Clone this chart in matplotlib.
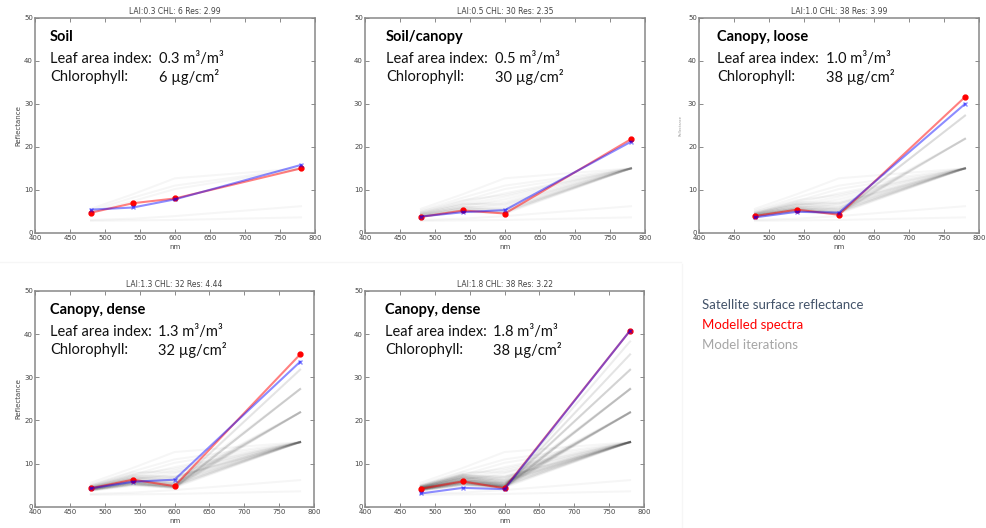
import matplotlib
matplotlib.use('Agg')
import matplotlib.pyplot as plt
from matplotlib.lines import Line2D

# band centres of the satellite channels (nm)
wavelength = [480, 540, 600, 780]

titles = ['LAI:0.3 CHL: 6 Res: 2.99', 'LAI:0.5 CHL: 30 Res: 2.35',
          'LAI:1.0 CHL: 38 Res: 3.99', 'LAI:1.3 CHL: 32 Res: 4.44',
          'LAI:1.8 CHL: 38 Res: 3.22']
headings = ['Soil', 'Soil/canopy', 'Canopy, loose', 'Canopy, dense', 'Canopy, dense']
lai = ['0.3', '0.5', '1.0', '1.3', '1.8']
chl = ['6', '30', '38', '32', '38']

# observed reflectance per scene
satellite = [[5.4, 5.9, 7.8, 15.8],
             [3.8, 4.8, 5.3, 21.2],
             [3.6, 4.9, 4.7, 30.0],
             [4.3, 5.8, 6.3, 33.6],
             [3.1, 4.4, 4.1, 40.8]]
# best fitting model spectrum per scene
modelled = [[4.7, 6.9, 8.0, 15.0],
            [3.7, 5.2, 4.5, 21.8],
            [3.9, 5.4, 4.2, 31.6],
            [4.3, 6.3, 4.8, 35.3],
            [4.2, 5.9, 4.3, 40.8]]

# model iterations, each scene adds its own runs to the ones before
iter_soil = [[2.8, 2.9, 3.0, 3.6],
             [3.0, 3.3, 3.9, 6.2],
             [5.6, 9.0, 12.7, 15.0],
             [5.2, 8.2, 11.0, 15.0],
             [4.8, 7.4, 10.2, 14.9]]
iter_soil_canopy = [[4.6, 7.0, 9.2, 15.0],
                    [4.4, 6.6, 8.4, 15.0],
                    [4.2, 6.2, 7.8, 15.0],
                    [4.5, 6.5, 7.2, 15.0],
                    [4.0, 5.8, 6.8, 15.0],
                    [4.3, 6.0, 6.2, 15.0],
                    [3.9, 5.4, 5.8, 15.0],
                    [4.1, 5.6, 5.4, 15.0],
                    [3.8, 5.1, 5.0, 15.0],
                    [4.0, 5.3, 4.7, 15.0],
                    [3.7, 4.9, 4.5, 15.0],
                    [4.2, 5.7, 5.1, 15.1],
                    [3.9, 5.2, 4.9, 15.1],
                    [4.4, 6.0, 5.5, 15.0],
                    [5.0, 7.6, 8.8, 15.0],
                    [4.7, 6.8, 6.6, 14.9]]
iter_canopy_loose = [[4.0, 5.5, 4.6, 21.9],
                     [4.2, 5.9, 4.9, 21.9],
                     [3.9, 5.3, 4.4, 21.9],
                     [4.3, 6.2, 5.3, 21.8],
                     [4.1, 5.7, 4.7, 21.9],
                     [4.4, 6.5, 5.6, 21.9],
                     [3.8, 5.1, 4.3, 27.3],
                     [4.0, 5.4, 4.5, 27.3],
                     [3.9, 5.2, 4.4, 27.3],
                     [4.1, 5.6, 4.6, 27.2],
                     [4.5, 6.8, 6.0, 15.0],
                     [4.6, 7.2, 6.9, 15.0]]
iter_canopy_dense = [[4.2, 5.8, 4.8, 31.8],
                     [4.0, 5.5, 4.6, 31.8],
                     [4.3, 6.0, 5.0, 31.7],
                     [4.4, 6.3, 5.2, 27.3],
                     [4.1, 5.6, 4.6, 27.3],
                     [4.5, 6.6, 5.5, 21.9],
                     [4.3, 6.1, 5.1, 21.9],
                     [4.7, 7.0, 6.2, 21.9],
                     [4.8, 7.4, 7.0, 15.0],
                     [5.0, 8.0, 8.0, 15.0]]
iter_canopy_dense2 = [[4.1, 5.9, 4.5, 38.3],
                      [4.2, 6.1, 4.6, 38.3],
                      [4.0, 5.6, 4.4, 35.3],
                      [4.3, 6.3, 4.7, 35.3],
                      [4.1, 5.8, 4.5, 35.3],
                      [4.4, 6.6, 4.9, 31.7],
                      [4.2, 6.0, 4.6, 31.7],
                      [4.5, 6.9, 5.1, 27.3],
                      [4.3, 6.4, 4.8, 27.3],
                      [4.6, 7.1, 5.3, 21.8],
                      [4.4, 6.7, 5.0, 21.8],
                      [4.7, 7.3, 5.6, 21.8],
                      [4.8, 7.5, 6.0, 15.0],
                      [4.6, 7.0, 5.7, 15.0],
                      [4.9, 7.6, 6.4, 15.0]]
iter_groups = [iter_soil, iter_soil_canopy, iter_canopy_loose,
               iter_canopy_dense, iter_canopy_dense2]

legend_labels = ['Satellite surface reflectance', 'Modelled spectra', 'Model iterations']
legend_colors = ['#44546a', '#ff0000', '#a6a6a6']

# axes rectangles [left, bottom, width, height] and text x offsets
axes_pos = [[0.0355, 0.559, 0.2837, 0.407],
            [0.3698, 0.559, 0.2837, 0.407],
            [0.7082, 0.559, 0.2837, 0.407],
            [0.0355, 0.040, 0.2827, 0.409],
            [0.3698, 0.040, 0.2827, 0.409]]
text_x = [(0.054, 0.443), (0.075, 0.464), (0.064, 0.454), (0.054, 0.440), (0.072, 0.460)]

fig = plt.figure(figsize=(9.87, 5.28), dpi=100)

# faint separators between the panels
fig.add_artist(Line2D([0, 0.69], [0.504, 0.504], color='#f6f6f6', lw=1))
fig.add_artist(Line2D([0.691, 0.691], [0, 0.500], color='#f6f6f6', lw=1))

for i in range(5):
    ax = fig.add_axes(axes_pos[i])
    runs = [r for g in iter_groups[:i + 1] for r in g]
    for r in runs:
        ax.plot(wavelength, r, color='black', alpha=0.035, lw=1.5)
    ax.plot(wavelength, modelled[i], color='red', alpha=0.5, lw=1.5)
    ax.plot(wavelength, modelled[i], 'o', color='red', ms=3.5, mec='red')
    ax.plot(wavelength, satellite[i], color='blue', alpha=0.45, lw=1.5,
            marker='x', ms=3.5, mew=1)

    ax.set_xlim(400, 800)
    ax.set_ylim(0, 50)
    ax.set_xticks(range(400, 801, 50))
    ax.set_yticks(range(0, 51, 10))
    ax.tick_params(direction='in', top=True, right=True, length=3, width=0.6,
                   labelsize=5, colors='#777777', labelcolor='#444444', pad=1.5)
    for s in ax.spines.values():
        s.set_color('#888888')
        s.set_linewidth(1.1)
    ax.set_title(titles[i], fontsize=5.5, color='#444444', pad=3)
    ax.set_xlabel('nm', fontsize=5, color='#444444', labelpad=2)
    if i in (0, 3):
        ax.set_ylabel('Reflectance', fontsize=5, color='#444444', labelpad=2)
    elif i == 2:
        ax.set_ylabel('Reflectance', fontsize=2.5, color='#999999', labelpad=4)

    tx, vx = text_x[i]
    ax.text(tx, 0.91, headings[i], transform=ax.transAxes, fontsize=10.5,
            fontweight='bold', family='Lato', va='center', color='black')
    ax.text(tx, 0.81, 'Leaf area index:', transform=ax.transAxes, fontsize=10.5,
            family='Lato', va='center', color='#111111')
    ax.text(vx, 0.81, lai[i] + ' m³/m³', transform=ax.transAxes, fontsize=10.5,
            family='Lato', va='center', color='#111111')
    ax.text(tx, 0.725, 'Chlorophyll:', transform=ax.transAxes, fontsize=10.5,
            family='Lato', va='center', color='#111111')
    ax.text(vx, 0.725, chl[i] + ' µg/cm²', transform=ax.transAxes, fontsize=10.5,
            family='Lato', va='center', color='#111111')

for k, (lab, col) in enumerate(zip(legend_labels, legend_colors)):
    fig.text(0.711, 0.422 - k * 0.0375, lab, fontsize=9.5, family='Lato',
             color=col, va='center')

fig.savefig('out.png', dpi=100)
